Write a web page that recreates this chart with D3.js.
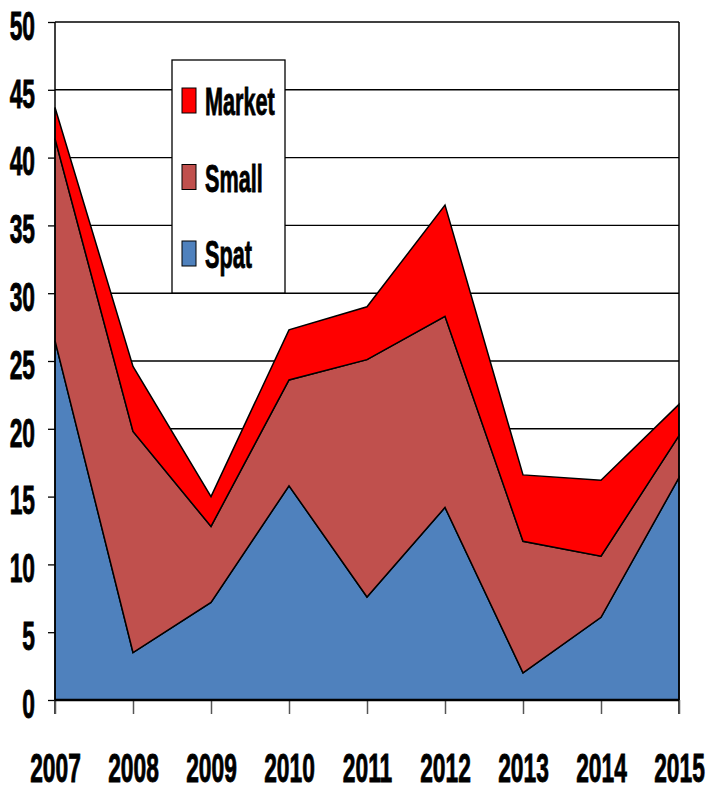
<!DOCTYPE html>
<html><head><meta charset="utf-8">
<script src="https://cdn.jsdelivr.net/npm/d3@7/dist/d3.min.js"></script>
<style>
html,body{margin:0;padding:0;background:#fff;}
text{font-family:"Liberation Sans","Arial",sans-serif;font-weight:bold;fill:#000;stroke:#000;stroke-width:0.9px;}
</style></head>
<body>
<svg id="chart" width="711" height="790"></svg>
<script>
const years = ["2007","2008","2009","2010","2011","2012","2013","2014","2015"];
const seriesNames = ["Spat","Small","Market"];
const spat   = [26.5, 3.5, 7.2, 15.8, 7.6, 14.2, 2.0, 6.1, 16.4];
const small  = [14.9, 16.3, 5.6, 7.8, 17.5, 14.1, 9.7, 4.5, 3.1];
const market = [2.3, 4.8, 2.2, 3.7, 3.9, 8.2, 4.9, 5.6, 2.3];
const yTicks = [0,5,10,15,20,25,30,35,40,45,50];
const colors = {Spat:"#4F81BD", Small:"#C0504D", Market:"#FF0000"};

const svg = d3.select("#chart");
const mLeft = 55, mRight = 679, mTop = 22, mBottom = 700;
const narrow = 0.57;

const x = d3.scalePoint().domain(years).range([mLeft, mRight]);
const y = d3.scaleLinear().domain([0, 50]).range([mBottom, mTop]);

const table = years.map((yr, i) => ({year: yr, Spat: spat[i], Small: small[i], Market: market[i]}));
const stacked = d3.stack().keys(seriesNames)(table);

const lg = {x0: 172, y0: 60, x1: 285, y1: 293};

const grid = svg.append("g");
yTicks.filter(t => t > 0).forEach(t => {
  const yy = y(t);
  grid.append("line").attr("x1", mLeft).attr("x2", mRight).attr("y1", yy).attr("y2", yy)
    .attr("stroke", "#000").attr("stroke-width", 1.4);
});

const area = d3.area().x(d => x(d.data.year)).y0(d => y(d[0])).y1(d => y(d[1]));
svg.append("g").selectAll("path").data(stacked).join("path")
  .attr("d", area)
  .attr("fill", d => colors[d.key])
  .attr("stroke", "#000").attr("stroke-width", 1.5).attr("stroke-linejoin", "miter");

const yAxis = d3.axisLeft(y).tickValues(yTicks).tickSize(7).tickPadding(12);
const gy = svg.append("g").attr("transform", `translate(${mLeft},0)`).call(yAxis);
gy.select(".domain").remove();
gy.selectAll(".tick line").attr("stroke", "#000").attr("stroke-width", 1.3);
gy.selectAll(".tick text").style("font-size", "40px")
  .attr("x", 0).attr("dy", "0.43em")
  .attr("transform", `translate(-20,0) scale(${narrow},1)`);
svg.append("line").attr("x1", mLeft).attr("x2", mLeft).attr("y1", mTop).attr("y2", mBottom + 14)
  .attr("stroke", "#000").attr("stroke-width", 1.5);
svg.append("line").attr("x1", mRight).attr("x2", mRight).attr("y1", mTop).attr("y2", mBottom + 14)
  .attr("stroke", "#000").attr("stroke-width", 1.5);

const xAxis = d3.axisBottom(x).tickSize(14);
const gx = svg.append("g").attr("transform", `translate(0,${mBottom})`).call(xAxis);
gx.select(".domain").remove();
gx.selectAll(".tick line").attr("stroke", "#555").attr("stroke-width", 1.5);
gx.selectAll(".tick text").style("font-size", "40px")
  .attr("y", 0).attr("dy", 0)
  .attr("transform", `translate(0,82) scale(${narrow},1)`);
svg.append("line").attr("x1", mLeft).attr("x2", mRight).attr("y1", mBottom).attr("y2", mBottom)
  .attr("stroke", "#000").attr("stroke-width", 2.5);

const leg = svg.append("g");
leg.append("rect").attr("x", lg.x0).attr("y", lg.y0).attr("width", lg.x1 - lg.x0).attr("height", lg.y1 - lg.y0)
  .attr("fill", "#fff").attr("stroke", "#000").attr("stroke-width", 1.3);
const legItems = ["Market","Small","Spat"];
const legY = d3.scalePoint().domain(legItems).range([115, 268]);
legItems.forEach(k => {
  const by = legY(k);
  leg.append("rect").attr("x", 182).attr("y", by - 27).attr("width", 14).attr("height", 25)
    .attr("fill", colors[k]).attr("stroke", "#000").attr("stroke-width", 1);
  leg.append("text").attr("transform", `translate(205,${by}) scale(${narrow},1)`)
    .style("font-size", "38px").text(k);
});
</script>
</body></html>
